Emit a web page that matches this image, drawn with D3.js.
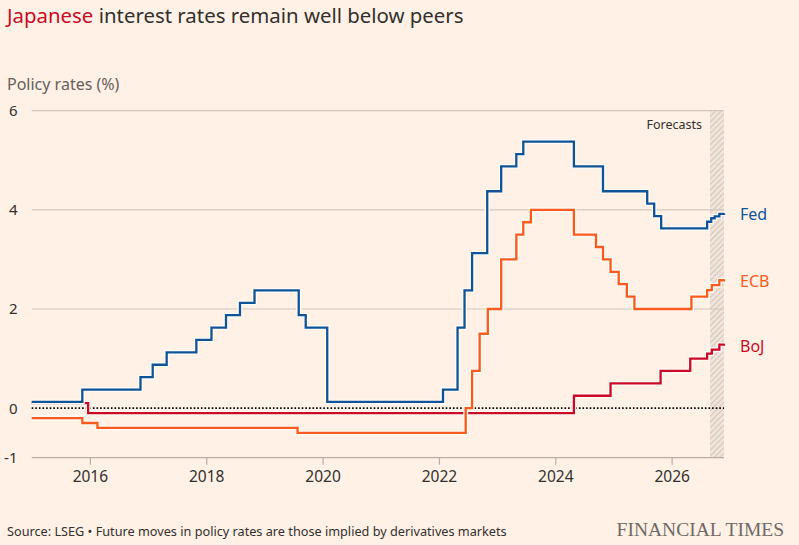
<!DOCTYPE html>
<html>
<head>
  <meta charset="utf-8">
  <title>Japanese interest rates remain well below peers</title>
  <script src="https://d3js.org/d3.v7.min.js"></script>
  <style>
    body { margin: 0; background: #fff1e5; }
    svg { display: block; font-family: "Noto Sans", sans-serif; }
  </style>
</head>
<body>
  <div id='chart'></div>
  <script>
    // step dates as decimal years
    var fedDates = [2015.0, 2015.87, 2016.87, 2017.08, 2017.32, 2017.83, 2018.09, 2018.34, 2018.58, 2018.83,
                    2019.59, 2019.71, 2020.08, 2022.07, 2022.32, 2022.44, 2022.57, 2022.83, 2023.07, 2023.33,
                    2023.45, 2024.32, 2024.82, 2025.58, 2025.70, 2025.82, 2026.61, 2026.68, 2026.74, 2026.82, 2026.9];
    var fedValues = [0.125, 0.375, 0.625, 0.875, 1.125, 1.375, 1.625, 1.875, 2.125, 2.375,
                     1.875, 1.625, 0.125, 0.375, 1.625, 2.375, 3.125, 4.375, 4.875, 5.125,
                     5.375, 4.875, 4.375, 4.125, 3.875, 3.625, 3.76, 3.83, 3.87, 3.92, 3.93];

    var ecbDates = [2015.0, 2015.87, 2016.13, 2019.57, 2022.46, 2022.57, 2022.70, 2022.84, 2023.07, 2023.33,
                    2023.45, 2023.58, 2024.32, 2024.70, 2024.82, 2024.95, 2025.09, 2025.23, 2025.36, 2026.34,
                    2026.61, 2026.69, 2026.82, 2026.9];
    var ecbValues = [-0.2, -0.3, -0.4, -0.5, 0, 0.75, 1.5, 2.0, 3.0, 3.5,
                     3.75, 4.0, 3.5, 3.25, 3.0, 2.75, 2.5, 2.25, 2.0, 2.25,
                     2.38, 2.48, 2.58, 2.6];

    var bojDates = [2015.0, 2015.97, 2024.32, 2024.95, 2025.81, 2026.32, 2026.61, 2026.69, 2026.82, 2026.9];
    var bojValues = [0.1, -0.1, 0.25, 0.5, 0.75, 1.0, 1.1, 1.18, 1.28, 1.3];

    var seriesNames = ['BoJ', 'ECB', 'Fed'];
    var seriesColors = ['#cc0a28', '#fa5a1e', '#0f5499'];
    var yTicks = [-1, 0, 2, 4, 6];
    var xTicks = [2016, 2018, 2020, 2022, 2024, 2026];
    var forecastStart = 2026.66;

    var width = 799, height = 545;
    var margin = {top: 110.7, right: 75, bottom: 87.3, left: 31.7};

    var svg = d3.select('#chart').append('svg')
        .attr('width', width)
        .attr('height', height);

    svg.append('rect')
        .attr('width', width)
        .attr('height', height)
        .attr('fill', '#fff1e5');

    var x = d3.scaleLinear()
        .domain([2015.0, 2026.9])
        .range([margin.left, width - margin.right]);

    var y = d3.scaleLinear()
        .domain([-1, 6])
        .range([height - margin.bottom, margin.top]);

    // hatched forecast band
    var pattern = svg.append('defs').append('pattern')
        .attr('id', 'hatch')
        .attr('patternUnits', 'userSpaceOnUse')
        .attr('width', 4)
        .attr('height', 4)
        .attr('patternTransform', 'rotate(45)');
    pattern.append('rect').attr('width', 4).attr('height', 4).attr('fill', '#f0e4d9');
    pattern.append('line')
        .attr('x1', 0).attr('y1', 0).attr('x2', 0).attr('y2', 4)
        .attr('stroke', '#c2b8ae').attr('stroke-width', 1.3);

    svg.append('rect')
        .attr('x', x(forecastStart))
        .attr('y', y(6))
        .attr('width', x(2026.9) - x(forecastStart))
        .attr('height', y(-1) - y(6))
        .attr('fill', 'url(#hatch)');

    // grid
    svg.append('g')
        .selectAll('line')
        .data(yTicks.filter(function(d) { return d !== 0; }))
        .enter().append('line')
          .attr('x1', x.range()[0])
          .attr('x2', x.range()[1])
          .attr('y1', function(d) { return y(d); })
          .attr('y2', function(d) { return y(d); })
          .attr('stroke', function(d) { return d === -1 ? '#b8aea5' : '#d3c8be'; })
          .attr('stroke-width', 1.2);

    svg.append('g')
        .selectAll('text')
        .data(yTicks)
        .enter().append('text')
          .attr('x', 17.5)
          .attr('y', function(d) { return y(d) + 5.5; })
          .attr('text-anchor', 'end')
          .attr('fill', '#33302e')
          .style('font-size', '15px')
          .text(function(d) { return d; });

    // x axis
    var xAxis = svg.append('g')
        .attr('transform', 'translate(0,' + y(-1) + ')')
        .call(d3.axisBottom(x).tickValues(xTicks).tickFormat(d3.format('d')).tickSize(7).tickPadding(6));
    xAxis.select('.domain').remove();
    xAxis.selectAll('line').attr('stroke', '#b8aea5').attr('stroke-width', 1.2);
    xAxis.selectAll('text')
        .attr('fill', '#33302e')
        .style('font-family', '"Noto Sans", sans-serif')
        .style('font-size', '15.5px');

    // zero line
    svg.append('line')
        .attr('x1', x.range()[0])
        .attr('x2', x.range()[1])
        .attr('y1', y(0))
        .attr('y2', y(0))
        .attr('stroke', '#000')
        .attr('stroke-width', 1.6)
        .attr('stroke-dasharray', '1.6,2');

    svg.append('text')
        .attr('x', x(forecastStart) - 8)
        .attr('y', y(6) + 18)
        .attr('text-anchor', 'end')
        .attr('fill', '#33302e')
        .style('font-size', '12.5px')
        .text('Forecasts');

    // lines
    var series = [
      {name: 'BoJ', dates: bojDates, values: bojValues},
      {name: 'ECB', dates: ecbDates, values: ecbValues},
      {name: 'Fed', dates: fedDates, values: fedValues}
    ];

    var line = d3.line()
        .curve(d3.curveStepAfter)
        .x(function(d) { return x(d[0]); })
        .y(function(d) { return y(d[1]); });

    series.forEach(function(s, i) {
      var pts = d3.zip(s.dates, s.values);
      var g = svg.append('g');
      g.append('path')
          .attr('d', line(pts))
          .attr('fill', 'none')
          .attr('stroke', '#fffaf4')
          .attr('stroke-width', 5);
      g.append('path')
          .attr('d', line(pts))
          .attr('fill', 'none')
          .attr('stroke', seriesColors[i])
          .attr('stroke-width', 2.3);
    });

    // line labels
    var labelY = {BoJ: 346, ECB: 281.5, Fed: 214.5};
    svg.append('g')
        .selectAll('text')
        .data(seriesNames)
        .enter().append('text')
          .attr('x', 740)
          .attr('y', function(d) { return labelY[d] + 5.8; })
          .attr('fill', function(d, i) { return seriesColors[i]; })
          .style('font-size', '16px')
          .text(function(d) { return d; });

    // titles
    var title = svg.append('text')
        .attr('x', 7)
        .attr('y', 23)
        .attr('fill', '#33302e')
        .style('font-size', '20.4px');
    title.append('tspan').attr('fill', '#cc0a28').text('Japanese');
    title.append('tspan').text(' interest rates remain well below peers');

    svg.append('text')
        .attr('x', 7)
        .attr('y', 90)
        .attr('fill', '#66605c')
        .style('font-size', '16px')
        .text('Policy rates (%)');

    svg.append('text')
        .attr('x', 7)
        .attr('y', 536)
        .attr('fill', '#33302e')
        .style('font-size', '12.7px')
        .text('Source: LSEG \u2022 Future moves in policy rates are those implied by derivatives markets');

    svg.append('text')
        .attr('x', 784)
        .attr('y', 536)
        .attr('text-anchor', 'end')
        .attr('fill', '#6f6a66')
        .style('font-family', '"Liberation Serif", "DejaVu Serif", serif')
        .style('font-size', '19.5px')
        .text('FINANCIAL TIMES');
  </script>
</body>
</html>
